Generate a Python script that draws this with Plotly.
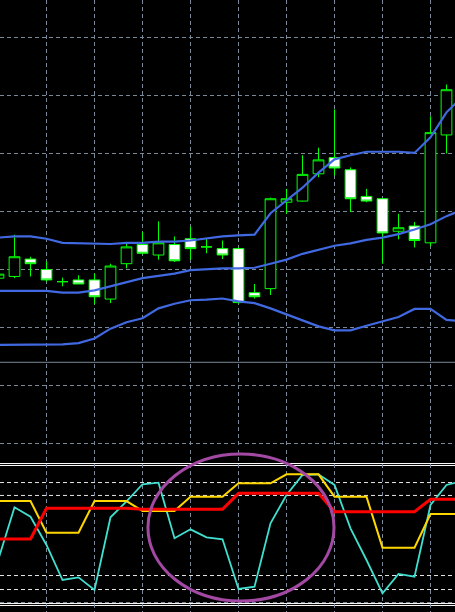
import plotly.graph_objects as go

# ---------------- data ----------------
bars = list(range(29))          # candle index
band_bars = list(range(30))     # indicator index (one bar beyond the visible edge)

open_ = [1.30285, 1.30288, 1.30318, 1.30300, 1.30279, 1.30282, 1.30282, 1.30249, 1.30310, 1.30343,
         1.30325, 1.30343, 1.30353, 1.30339, 1.30336, 1.30336, 1.30260, 1.30267, 1.30416, 1.30418,
         1.30465, 1.30493, 1.30472, 1.30426, 1.30422, 1.30366, 1.30375, 1.30346, 1.30532]
high = [1.30297, 1.30360, 1.30322, 1.30314, 1.30286, 1.30290, 1.30293, 1.30310, 1.30344, 1.30365,
        1.30383, 1.30357, 1.30374, 1.30353, 1.30350, 1.30338, 1.30275, 1.30424, 1.30439, 1.30497,
        1.30510, 1.30576, 1.30476, 1.30439, 1.30423, 1.30396, 1.30382, 1.30564, 1.30619]
low = [1.30281, 1.30285, 1.30288, 1.30279, 1.30271, 1.30275, 1.30240, 1.30242, 1.30302, 1.30326,
       1.30317, 1.30313, 1.30317, 1.30328, 1.30318, 1.30241, 1.30250, 1.30256, 1.30396, 1.30417,
       1.30459, 1.30462, 1.30399, 1.30416, 1.30310, 1.30352, 1.30338, 1.30340, 1.30500]
close = [1.30292, 1.30322, 1.30310, 1.30282, 1.30279, 1.30275, 1.30253, 1.30306, 1.30339, 1.30328,
         1.30346, 1.30315, 1.30336, 1.30339, 1.30325, 1.30243, 1.30253, 1.30422, 1.30422, 1.30464,
         1.30489, 1.30475, 1.30422, 1.30418, 1.30363, 1.30372, 1.30350, 1.30536, 1.30610]

bb_upper = [1.30355, 1.30357, 1.30357, 1.30353, 1.30346, 1.30345, 1.30344, 1.30344, 1.30346, 1.30346,
            1.30348, 1.30348, 1.30350, 1.30354, 1.30357, 1.30359, 1.30360, 1.30397, 1.30419, 1.30441,
            1.30467, 1.30490, 1.30497, 1.30503, 1.30503, 1.30503, 1.30501, 1.30528, 1.30571, 1.30598]
bb_middle = [1.30263, 1.30263, 1.30264, 1.30263, 1.30260, 1.30260, 1.30264, 1.30271, 1.30278, 1.30285,
             1.30289, 1.30293, 1.30299, 1.30301, 1.30302, 1.30302, 1.30303, 1.30310, 1.30317, 1.30327,
             1.30334, 1.30341, 1.30345, 1.30351, 1.30355, 1.30361, 1.30369, 1.30378, 1.30392, 1.30403]
bb_lower = [1.30170, 1.30170, 1.30170, 1.30170, 1.30171, 1.30173, 1.30181, 1.30198, 1.30209, 1.30216,
            1.30233, 1.30241, 1.30247, 1.30248, 1.30250, 1.30245, 1.30242, 1.30233, 1.30223, 1.30212,
            1.30202, 1.30195, 1.30195, 1.30203, 1.30210, 1.30218, 1.30232, 1.30232, 1.30213, 1.30211]

osc_cyan = [32.7, 69.4, 62.7, 42.5, 17.5, 19.4, 10.4, 62.3, 73.6, 85.9,
            87.0, 47.3, 53.7, 48.0, 46.6, 11.1, 12.7, 58.0, 78.2, 92.5,
            93.0, 85.4, 54.4, 31.8, 8.0, 21.8, 19.9, 71.1, 85.4, 88.2]
osc_yellow = [73.9, 73.9, 73.9, 51.3, 51.3, 51.3, 73.9, 73.9, 73.9, 66.8,
              66.8, 66.8, 77.0, 77.0, 77.0, 86.6, 86.6, 86.6, 93.0, 93.0,
              93.0, 77.0, 77.0, 77.0, 40.6, 40.6, 40.6, 64.6, 64.6, 64.6]
osc_red = [46.8, 46.8, 46.8, 68.7, 68.7, 68.7, 68.7, 68.7, 68.7, 68.0,
           68.0, 68.0, 68.0, 68.0, 68.0, 79.4, 79.4, 79.4, 79.4, 79.4,
           79.4, 66.3, 66.3, 66.3, 66.3, 66.3, 66.3, 75.1, 75.1, 75.1]

price_grid = [1.3000, 1.3010, 1.3020, 1.3030, 1.3040, 1.3050, 1.3060, 1.3070]
time_grid = [3, 6, 9, 12, 15, 18, 21, 24, 27]
hline_price = 1.30140
osc_dashed_levels = [87.1, 77.9, 20.7, 10.7]
osc_solid_levels = [100.7, 99.3, 0.7, -0.7]
osc_grid = [1.4]
ellipse_x = (9.34, 20.97)
ellipse_y = (2.5, 107.5)

# ---------------- styles ----------------
GRID = "#7A8898"
LIME = "#00FF00"
BLUE = "#4169E1"
DASH = "4px,3px"

fig = go.Figure()

fig.add_trace(go.Candlestick(
    x=bars, open=open_, high=high, low=low, close=close,
    increasing=dict(line=dict(color=LIME, width=1), fillcolor="#000000"),
    decreasing=dict(line=dict(color=LIME, width=1), fillcolor="#FFFFFF"),
    whiskerwidth=0, xaxis="x", yaxis="y", hoverinfo="skip",
))

for band in (bb_upper, bb_middle, bb_lower):
    fig.add_trace(go.Scatter(x=band_bars, y=band, mode="lines",
                             line=dict(color=BLUE, width=2.2),
                             xaxis="x", yaxis="y", hoverinfo="skip"))

fig.add_trace(go.Scatter(x=band_bars, y=osc_cyan, mode="lines",
                         line=dict(color="#40E0D0", width=1.8), xaxis="x", yaxis="y2"))
fig.add_trace(go.Scatter(x=band_bars, y=osc_yellow, mode="lines",
                         line=dict(color="#FFD700", width=2), xaxis="x", yaxis="y2"))
fig.add_trace(go.Scatter(x=band_bars, y=osc_red, mode="lines",
                         line=dict(color="#FF0000", width=3), xaxis="x", yaxis="y2"))

shapes = []
shapes.append(dict(type="line", xref="paper", x0=0, x1=1, yref="y",
                   y0=hline_price, y1=hline_price, line=dict(color=GRID, width=1), layer="below"))
for lv in osc_dashed_levels:
    shapes.append(dict(type="line", xref="paper", x0=0, x1=1, yref="y2", y0=lv, y1=lv,
                       line=dict(color="#E6E6E6", width=1, dash=DASH), layer="below"))
for lv in osc_solid_levels:
    shapes.append(dict(type="line", xref="paper", x0=0, x1=1, yref="y2", y0=lv, y1=lv,
                       line=dict(color="#FFFFFF", width=1), layer="below"))
shapes.append(dict(type="circle", xref="x", yref="y2",
                   x0=ellipse_x[0], x1=ellipse_x[1], y0=ellipse_y[0], y1=ellipse_y[1],
                   line=dict(color="#A349A4", width=3), layer="above"))

H = 612
fig.update_layout(
    width=455, height=H,
    margin=dict(l=0, r=0, t=0, b=0),
    paper_bgcolor="#000000", plot_bgcolor="#000000",
    showlegend=False,
    boxgap=0.33, boxgroupgap=0,
    shapes=shapes,
    xaxis=dict(range=[0.09375, 28.53125], tickvals=time_grid, showticklabels=False,
               showgrid=True, gridcolor=GRID, griddash=DASH, gridwidth=1,
               zeroline=False, showline=False, ticks="", rangeslider=dict(visible=False),
               anchor="y"),
    yaxis=dict(domain=[1 - 448 / H, 1], range=[1.299922, 1.307647], tickvals=price_grid,
               showticklabels=False, showgrid=True, gridcolor=GRID, griddash=DASH,
               zeroline=False, showline=False, ticks=""),
    yaxis2=dict(domain=[0, 1 - 450 / H], range=[-5.357, 110.357], tickvals=osc_grid,
                showticklabels=False, showgrid=True, gridcolor=GRID, griddash=DASH,
                zeroline=False, showline=False, ticks="", anchor="x"),
)

fig.write_html("out.html", config={"displayModeBar": False},
               post_script="document.body.style.margin='0';document.body.style.background='#000';")
